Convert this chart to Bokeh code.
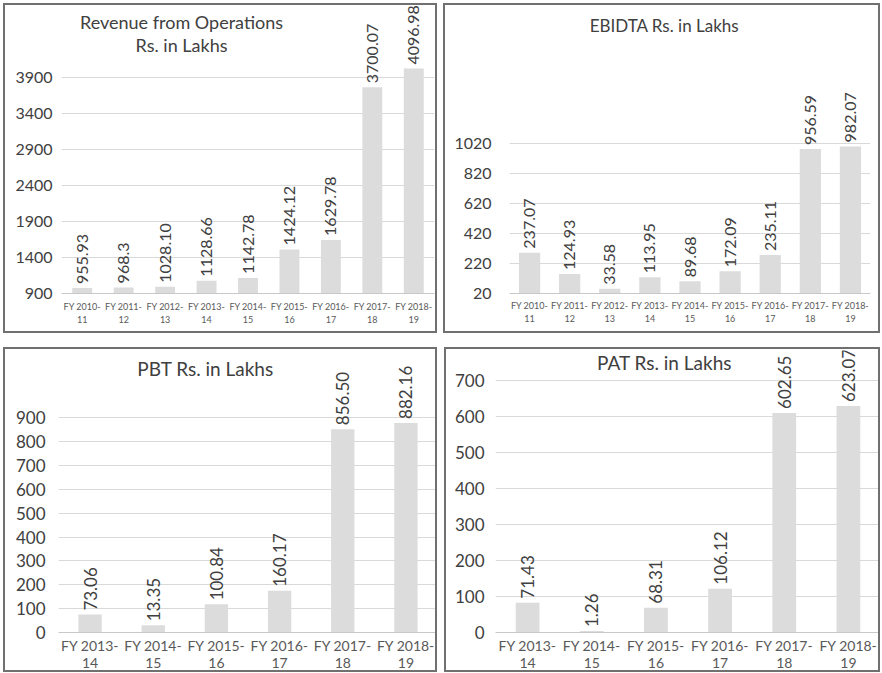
import math
from bokeh.plotting import figure
from bokeh.models import FactorRange, Range1d, FixedTicker, Label
from bokeh.layouts import column, row
from bokeh.embed import file_html
from bokeh.resources import INLINE
from bokeh.core.properties import value

# ---------------- data ----------------
rev_years = ["FY 2010-\n11", "FY 2011-\n12", "FY 2012-\n13", "FY 2013-\n14", "FY 2014-\n15",
             "FY 2015-\n16", "FY 2016-\n17", "FY 2017-\n18", "FY 2018-\n19"]
rev_bars = [975, 985, 994, 1079, 1117, 1513, 1645, 3768, 4027]
rev_labels = ["955.93", "968.3", "1028.10", "1128.66", "1142.78", "1424.12", "1629.78", "3700.07", "4096.98"]
rev_ticks = [900, 1400, 1900, 2400, 2900, 3400, 3900]

ebidta_years = rev_years
ebidta_bars = [292, 150, 51, 128, 101, 168, 276, 982, 1000]
ebidta_labels = ["237.07", "124.93", "33.58", "113.95", "89.68", "172.09", "235.11", "956.59", "982.07"]
ebidta_ticks = [20, 220, 420, 620, 820, 1020]

pbt_years = ["FY 2013-\n14", "FY 2014-\n15", "FY 2015-\n16", "FY 2016-\n17", "FY 2017-\n18", "FY 2018-\n19"]
pbt_bars = [75, 30, 118, 175, 853, 879]
pbt_labels = ["73.06", "13.35", "100.84", "160.17", "856.50", "882.16"]
pbt_ticks = [0, 100, 200, 300, 400, 500, 600, 700, 800, 900]

pat_years = pbt_years
pat_bars = [83, 4, 69, 122, 611, 630]
pat_labels = ["71.43", "1.26", "68.31", "106.12", "602.65", "623.07"]
pat_ticks = [0, 100, 200, 300, 400, 500, 600, 700]

titles = {
    "rev": ["Revenue from Operations", "Rs. in Lakhs"],
    "ebidta": ["EBIDTA Rs. in Lakhs"],
    "pbt": ["PBT Rs. in Lakhs"],
    "pat": ["PAT Rs. in Lakhs"],
}

FONT = "Lato"
BAR = "#dcdcdc"
GRID = "#d9d9d9"
TXT = "#404040"
BW = 2


def panel(cats, bars, labels, ticks, y0, scale, pw, ph, fl, fr, ft, fb,
          tlines, tcx, tdys, xfs, yfs, lfs, tfs, ystand, bar_w, xlh, xstand):
    fh = ph - ft - fb
    y1 = y0 + fh / scale
    p = figure(x_range=FactorRange(*cats), y_range=Range1d(y0, y1),
               width=pw, height=ph,
               min_border_left=fl - BW, min_border_right=fr - BW,
               min_border_top=ft - BW, min_border_bottom=fb - BW,
               output_backend="svg", toolbar_location=None)
    p.styles = {"border": f"{BW}px solid #707070"}
    p.outline_line_color = None
    p.background_fill_color = "white"
    p.border_fill_color = "white"
    p.vbar(x=cats, top=bars, bottom=y0, width=bar_w, fill_color=BAR, line_color=None)
    p.text(x=cats, y=bars, text=labels, angle=math.pi / 2, text_align="left",
           text_baseline="middle", y_offset=-4, text_font=value(FONT),
           text_font_size=f"{lfs}px", text_color=TXT)
    p.xgrid.grid_line_color = None
    p.ygrid.grid_line_color = GRID
    p.ygrid.grid_line_width = 1
    p.yaxis.ticker = FixedTicker(ticks=ticks)
    p.yaxis.axis_line_color = None
    p.yaxis.major_tick_line_color = None
    p.yaxis.minor_tick_line_color = None
    p.yaxis.major_tick_out = 0
    p.yaxis.major_tick_in = 0
    p.yaxis.major_label_text_font = FONT
    p.yaxis.major_label_text_font_size = f"{yfs}px"
    p.yaxis.major_label_text_color = TXT
    p.yaxis.major_label_standoff = ystand
    p.xaxis.axis_line_color = "#c8c8c8"
    p.xaxis.major_tick_line_color = None
    p.xaxis.minor_tick_line_color = None
    p.xaxis.major_tick_out = 0
    p.xaxis.major_tick_in = 0
    p.xaxis.major_label_text_font = FONT
    p.xaxis.major_label_text_font_size = f"{xfs}px"
    p.xaxis.major_label_text_color = "#595959"
    p.xaxis.major_label_text_line_height = xlh
    p.xaxis.major_label_standoff = xstand
    p.xaxis.major_label_orientation = "horizontal"
    for line, dy in zip(tlines, tdys):
        p.add_layout(Label(x=tcx, y=fh - dy, x_units="screen", y_units="screen",
                           text=line, text_align="center", text_baseline="middle",
                           text_font=FONT, text_font_size=f"{tfs}px", text_color=TXT))
    return p


tl = panel(rev_years, rev_bars, rev_labels, rev_ticks, 900, 215 / 3000,
           434, 330, 58, 7, 2, 41, titles["rev"], 120, [15, 38],
           9, 16, 16, 18, 9, 0.48, 1.25, 7)
tr = panel(ebidta_years, ebidta_bars, ebidta_labels, ebidta_ticks, 20, 148 / 1000,
           437, 330, 66, 14, 2, 44, titles["ebidta"], 155, [16],
           9, 16, 16, 17, 18, 0.53, 1.25, 6)
bl = panel(pbt_years, pbt_bars, pbt_labels, pbt_ticks, 0, 213 / 900,
           434, 325, 55, 4, 3, 42, titles["pbt"], 147, [16],
           14, 17, 17, 19, 13, 0.37, 1.0, 4)
br = panel(pat_years, pat_bars, pat_labels, pat_ticks, 0, 248 / 700,
           436, 325, 51, 4, 3, 44, titles["pat"], 169, [8],
           14, 17, 17, 19, 11, 0.37, 1.0, 4)

layout = column(row(tl, tr, spacing=6), row(bl, br, spacing=7), spacing=14,
                margin=(3, 0, 0, 3))
open("out.html", "w").write(file_html(layout, INLINE))
